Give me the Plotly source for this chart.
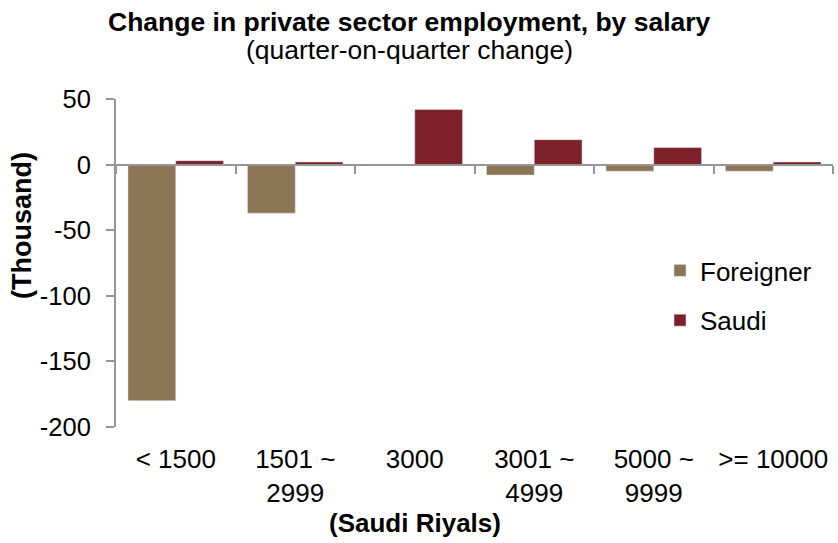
import plotly.graph_objects as go

categories = ["< 1500", "1501 ~<br>2999", "3000", "3001 ~<br>4999", "5000 ~<br>9999", ">= 10000"]
foreigner = [-180, -37, -1, -8, -5, -5]
saudi = [3, 2, 42, 19, 13, 2]
y_ticks = [50, 0, -50, -100, -150, -200]
y_tick_labels = ["50", "0", "-50", "-100", "-150", "-200"]

FONT = "Liberation Sans, Arial, sans-serif"
AXIS_GREY = "#969696"
W, H = 838, 543
L, R, T, B = 116, 5, 99, 116
pw, ph = W - L - R, H - T - B

def px_x(x):
    return (x - L) / pw

def px_y(y):
    return (H - B - y) / ph

fig = go.Figure()
fig.add_trace(go.Bar(name="Foreigner", x=categories, y=foreigner,
                     marker=dict(color="#8C7656"), legendgroup="f"))
fig.add_trace(go.Bar(name="Saudi", x=categories, y=saudi,
                     marker=dict(color="#7D2029"), legendgroup="s"))
# helper trace carrying the zero-line category axis
fig.add_trace(go.Scatter(x=categories, y=[None] * len(categories), xaxis="x2",
                         showlegend=False, hoverinfo="skip", mode="markers"))

ymin, ymax = min(y_ticks), max(y_ticks)
zero_pos = (0 - ymin) / (ymax - ymin)

fig.update_layout(
    width=W, height=H,
    margin=dict(l=L, r=R, t=T, b=B, autoexpand=False),
    paper_bgcolor="white", plot_bgcolor="white",
    font=dict(family=FONT, size=26, color="black"),
    barmode="group", bargap=0.2, bargroupgap=0,
    showlegend=True,
    legend=dict(x=px_x(660), y=px_y(247), xanchor="left", yanchor="top",
                font=dict(size=26), tracegroupgap=13, bgcolor="rgba(0,0,0,0)"),
    xaxis=dict(type="category", range=[-0.5, len(categories) - 0.5],
               showline=False, ticks="", showgrid=False, zeroline=False,
               tickfont=dict(size=26), ticklabelstandoff=14, automargin=False),
    xaxis2=dict(type="category", overlaying="x", anchor="free", position=zero_pos,
                range=[-0.5, len(categories) - 0.5], side="bottom",
                showline=True, linecolor=AXIS_GREY, linewidth=2,
                ticks="outside", tickson="boundaries", ticklen=8,
                tickcolor=AXIS_GREY, tickwidth=2, automargin=False,
                showticklabels=False, showgrid=False, zeroline=False),
    yaxis=dict(range=[ymin, ymax], tickvals=y_ticks, ticktext=y_tick_labels,
               showgrid=False, zeroline=False, automargin=False,
               showline=True, linecolor=AXIS_GREY, linewidth=2,
               ticks="outside", ticklen=8, tickcolor=AXIS_GREY, tickwidth=2,
               tickfont=dict(size=25.5), ticklabelstandoff=10),
    annotations=[
        dict(text="<b>Change in private sector employment, by salary</b>",
             x=px_x(409), y=px_y(22), xref="paper", yref="paper",
             xanchor="center", yanchor="middle", showarrow=False,
             font=dict(size=26.5)),
        dict(text="(quarter-on-quarter change)",
             x=px_x(409), y=px_y(50), xref="paper", yref="paper",
             xanchor="center", yanchor="middle", showarrow=False,
             font=dict(size=26.5)),
        dict(text="<b>(Thousand)</b>", textangle=-90,
             x=px_x(22), y=px_y(226), xref="paper", yref="paper",
             xanchor="center", yanchor="middle", showarrow=False,
             font=dict(size=27)),
        dict(text="<b>(Saudi Riyals)</b>",
             x=px_x(415), y=px_y(523), xref="paper", yref="paper",
             xanchor="center", yanchor="middle", showarrow=False,
             font=dict(size=26)),
    ],
)

fig.write_html("out.html", config={"displayModeBar": False},
               post_script="document.body.style.margin='0';document.body.style.padding='0';")
